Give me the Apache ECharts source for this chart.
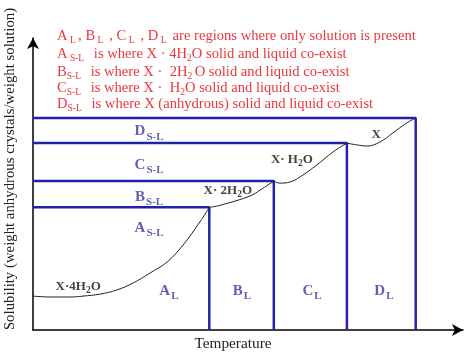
<!DOCTYPE html>
<html><head><meta charset="utf-8">
<script src="https://cdn.jsdelivr.net/npm/echarts@6/dist/echarts.min.js"></script>
<style>html,body{margin:0;padding:0;background:#fff}#c{width:474px;height:352px}</style>
</head><body><div id="c"></div>
<script>
// Transition temperatures (x) and saturation solubilities (y) of each hydrate region
const transitionTemps = [41, 56, 73, 89];
const transitionSols = [0.42, 0.51, 0.64, 0.726];
// Solubility curve segments (temperature, solubility)
const curve4H2O = [[0,0.116],[4,0.113],[8.6,0.113],[11.6,0.116],[15.6,0.123],[19.5,0.137],[23.3,0.161],[27.2,0.195],[31.2,0.233],[34.9,0.291],[38.8,0.37],[41,0.42]];
const curve2H2O = [[41,0.42],[43.5,0.427],[50.5,0.459],[52.8,0.479],[56,0.51]];
const curveH2O = [[56,0.51],[57.4,0.503],[59.8,0.507],[62.1,0.524],[66,0.565],[69.8,0.61],[73,0.64]];
const curveAnhyd = [[73,0.64],[75.3,0.634],[77.7,0.63],[80.7,0.644],[83.7,0.675],[86.9,0.709],[89,0.726]];
// Region labels: [main letter, subscript, x, y]
const regionLabels = [
  ['D','S-L',27,0.68],['C','S-L',27,0.565],['B','S-L',27,0.455],['A','S-L',27,0.35],
  ['A','L',31.6,0.134],['B','L',48.6,0.134],['C','L',64.9,0.134],['D','L',81.6,0.134]
];
// Solid phase labels: [name, x, y]
const phaseLabels = [
  ['X·4H|2|O',10.5,0.147],['X· 2H|2|O',45.3,0.476],['X· H|2|O',60.2,0.582],['X',79.8,0.668]
];
const xTitle = 'Temperature';
const yTitle = 'Solubility (weight anhydrous crystals/weight solution)';

const chart = echarts.init(document.getElementById('c'));
const serif = 'Liberation Serif';
const blueLine = '#2222ac';
const blueText = '#3a3aa0';
const red = '#e8383e';

const series = [];
transitionTemps.forEach((t, i) => {
  series.push({type:'line', data:[[0,transitionSols[i]],[t,transitionSols[i]],[t,0]],
    symbol:'none', lineStyle:{color:blueLine, width:2.5}, z:2, silent:true});
});
[curve4H2O, curve2H2O, curveH2O, curveAnhyd].forEach(c => {
  series.push({type:'line', data:c, smooth:0.4, symbol:'none',
    lineStyle:{color:'#222', width:1}, z:3, silent:true});
});
series.push({type:'scatter', symbolSize:0, z:4, silent:true,
  data: regionLabels.map(r => ({value:[r[2],r[3]], main:r[0], sub:r[1]})),
  label:{show:true, position:'inside', formatter: p => '{m|' + p.data.main + '}{s|' + p.data.sub + '}',
    rich:{m:{fontFamily:serif, fontWeight:'bold', fontSize:15, color:blueText, lineHeight:22},
          s:{fontFamily:serif, fontWeight:'bold', fontSize:11, color:blueText, lineHeight:11, verticalAlign:'bottom', padding:[0,0,0,1]}}}
});
series.push({type:'scatter', symbolSize:0, z:4, silent:true,
  data: phaseLabels.map(r => ({value:[r[1],r[2]], name:r[0]})),
  label:{show:true, position:'inside', formatter: p => {
      const parts = p.data.name.split('|');
      if (parts.length === 1) return '{m|' + parts[0] + '}';
      return '{m|' + parts[0] + '}{s|' + parts[1] + '}{m|' + parts[2] + '}';
    },
    rich:{m:{fontFamily:serif, fontWeight:'bold', fontSize:13, color:'#111', lineHeight:17},
          s:{fontFamily:serif, fontWeight:'bold', fontSize:9.5, color:'#111', lineHeight:9, verticalAlign:'bottom'}}}
});

const redRich = {
  m:{fontFamily:serif, fontSize:14.6, fill:red, lineHeight:18},
  s:{fontFamily:serif, fontSize:9.5, fill:red, lineHeight:9, verticalAlign:'bottom'}
};
const notes = [
  '{m|A}{s| L }{m|, B}{s| L }{m| , C}{s| L }{m| , D}{s| L }{m| are regions where only solution is present}',
  '{m|A}{s| S-L }{m|  is where X · 4H}{s|2}{m|O solid and liquid co-exist}',
  '{m|B}{s|S-L }{m|  is where X ·  2H}{s|2 }{m|O solid and liquid co-exist}',
  '{m|C}{s|S-L }{m|  is where X ·  H}{s|2}{m|O solid and liquid co-exist}',
  '{m|D}{s|S-L }{m|  is where X (anhydrous) solid and liquid co-exist}'
];
const noteY = [35, 53, 70.5, 87, 102.5];
const graphic = notes.map((t, i) => ({type:'text', left:57, top:noteY[i]-6, z:10, silent:true,
  style:{text:t, rich:redRich, fill:red, font:'14px ' + serif}}));
graphic.push({type:'text', x:233, y:344, silent:true,
  style:{text:xTitle, fontFamily:serif, fontSize:15.3, fill:'#222', align:'center', verticalAlign:'middle'}});
graphic.push({type:'text', x:10, y:169, rotation:Math.PI/2, silent:true,
  style:{text:yTitle, fontFamily:serif, fontSize:14.8, fill:'#222', align:'center', verticalAlign:'middle'}});

chart.setOption({
  animation:false,
  backgroundColor:'#fff',
  grid:{left:33, right:11, top:38, bottom:22},
  xAxis:{type:'value', min:0, max:100, splitLine:{show:false}, axisTick:{show:false}, axisLabel:{show:false},
    axisLine:{lineStyle:{color:'#000', width:1.5}, symbol:['none','arrow'], symbolSize:[9,11]}},
  yAxis:{type:'value', min:0, max:1, splitLine:{show:false}, axisTick:{show:false}, axisLabel:{show:false},
    axisLine:{lineStyle:{color:'#000', width:1.5}, symbol:['none','arrow'], symbolSize:[9,11]}},
  series: series,
  graphic: graphic
});
</script></body></html>
